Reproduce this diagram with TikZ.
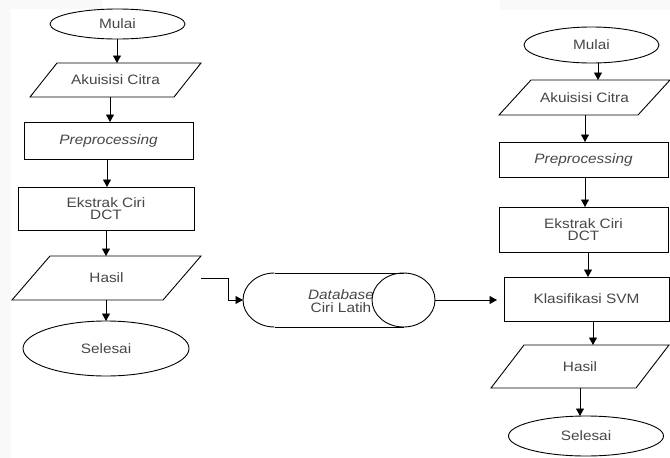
\documentclass[tikz,border=0pt]{standalone}
\usepackage{fontspec}
\setmainfont{Liberation Sans}[FakeStretch=1.13]
\usetikzlibrary{shapes.geometric,arrows.meta}
\begin{document}
\begin{tikzpicture}[x=1pt,y=-1pt,
  base/.style={font=\fontsize{13.6pt}{12.5pt}\selectfont, text=black!72, align=center, inner sep=0pt, outer sep=0pt},
  term/.style={base, ellipse, draw, line width=0.9pt},
  proc/.style={base, rectangle, draw, line width=0.9pt},
  io/.style={base, rectangle, draw=none},
  arr/.style={draw, line width=0.9pt, -{Triangle[length=7.5pt,width=8pt]}},
  shp/.style={draw, line width=0.9pt}]
\useasboundingbox (0,0) rectangle (670,458);
\fill[white] (0,0) rectangle (670,458);
\fill[gray!5] (0,0) rectangle (11,458);
\fill[gray!5] (0,0) rectangle (102,9);
\fill[gray!5] (500,0) rectangle (670,10);

% column x positions for connectors
\coordinate (La) at (117,0);
\coordinate (Lb) at (110,0);
\coordinate (Lc) at (107,0);
\coordinate (Ld) at (106,0);
\coordinate (Ra) at (598,0);
\coordinate (Rb) at (585,0);
\coordinate (Rc) at (588,0);
\coordinate (Rd) at (593,0);
\coordinate (Re) at (580,0);

% left column
\node[term, minimum width=135pt, minimum height=30pt] (lmul) at (117.5,24) {Mulai};
\node[io, minimum width=171pt, minimum height=34pt] (lakq) at (115.5,80) {Akuisisi Citra};
\draw[shp] ([xshift=27pt]lakq.north west) -- (lakq.north east) -- ([xshift=-27pt]lakq.south east) -- (lakq.south west) -- cycle;
\node[proc, minimum width=169pt, minimum height=37pt] (lpre) at (108.5,140.5) {\itshape Preprocessing};
\node[proc, minimum width=176pt, minimum height=43pt] (leks) at (106,208.5) {Ekstrak Ciri\\DCT};
\node[io, minimum width=189pt, minimum height=44pt] (lhas) at (106.5,278) {Hasil};
\draw[shp] ([xshift=38pt]lhas.north west) -- (lhas.north east) -- ([xshift=-38pt]lhas.south east) -- (lhas.south west) -- cycle;
\node[term, minimum width=166pt, minimum height=55pt] (lsel) at (106,348.5) {Selesai};

\draw[arr] (lmul.south -| La) -- (lakq.north -| La);
\draw[arr] (lakq.south -| Lb) -- (lpre.north -| Lb);
\draw[arr] (lpre.south -| Lc) -- (leks.north -| Lc);
\draw[arr] (leks.south -| Ld) -- (lhas.north -| Ld);
\draw[arr] (lhas.south -| Ld) -- (lsel.north -| Ld);

% database cylinder
\node[io, minimum width=192pt, minimum height=54pt] (db) at (339,300) {};
\node[base] (dbt) at (341,301) {\itshape Database\\Ciri Latih};
\draw[shp] (274.5,273) -- (403.5,273);
\draw[shp] (274.5,327) -- (403.5,327);
\draw[shp] (274.5,273) arc[start angle=270, end angle=90, x radius=31.5, y radius=27];
\draw[shp] (403.5,300) ellipse [x radius=31.5, y radius=27];

% right column
\node[term, minimum width=135pt, minimum height=36pt] (rmul) at (591.5,45) {Mulai};
\node[io, minimum width=171pt, minimum height=35pt] (rakq) at (584.5,97.5) {Akuisisi Citra};
\draw[shp] ([xshift=32pt]rakq.north west) -- (rakq.north east) -- ([xshift=-32pt]rakq.south east) -- (rakq.south west) -- cycle;
\node[proc, minimum width=169pt, minimum height=35pt] (rpre) at (583.5,159.5) {\itshape Preprocessing};
\node[proc, minimum width=169pt, minimum height=45pt] (reks) at (583.5,229.5) {Ekstrak Ciri\\DCT};
\node[proc, minimum width=165pt, minimum height=44pt] (rkla) at (586.5,299) {Klasifikasi SVM};
\node[io, minimum width=178pt, minimum height=43pt] (rhas) at (580,366.5) {Hasil};
\draw[shp] ([xshift=33pt]rhas.north west) -- (rhas.north east) -- ([xshift=-33pt]rhas.south east) -- (rhas.south west) -- cycle;
\node[term, minimum width=155pt, minimum height=40pt] (rsel) at (586,436) {Selesai};

\draw[arr] (rmul.south -| Ra) -- (rakq.north -| Ra);
\draw[arr] (rakq.south -| Rb) -- (rpre.north -| Rb);
\draw[arr] (rpre.south -| Rb) -- (reks.north -| Rb);
\draw[arr] (reks.south -| Rc) -- (rkla.north -| Rc);
\draw[arr] (rkla.south -| Rd) -- (rhas.north -| Rd);
\draw[arr] (rhas.south -| Re) -- (rsel.north -| Re);

% cross connectors
\draw[arr] (lhas.east) -- ++(27,0) |- (db.west);
\draw[arr, shorten >=7pt] (db.east) -- (db.east -| rkla.west);
\end{tikzpicture}
\end{document}
